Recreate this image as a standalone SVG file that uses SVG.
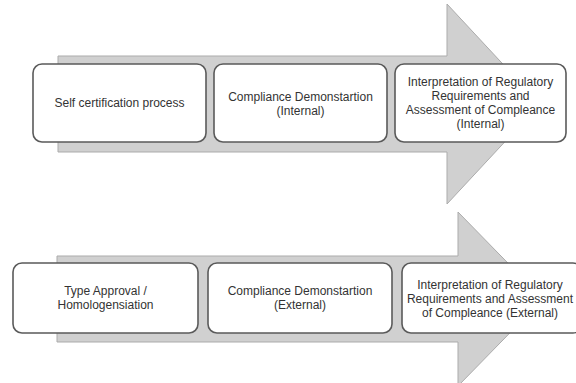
<svg xmlns="http://www.w3.org/2000/svg" width="576" height="383" viewBox="0 0 576 383">
<style>
.arrow{fill:#d0d0d0;stroke:#ababab;stroke-width:1}
.box{fill:#ffffff;stroke:#5a5a5a;stroke-width:1.6}
.t{font-family:"Liberation Sans",Arial,sans-serif;font-size:12px;fill:#333333;text-anchor:middle}
</style>
<rect width="576" height="383" fill="#ffffff"/>
<g id="connectors">
<polygon class="arrow" points="58,56 447,56 447,4 540,104 447,204 447,152 58,152"/>
<polygon class="arrow" points="57,256 458,256 458,212 543,299 458,386 458,342 57,342"/>
</g>
<g id="n1">
<rect class="box" x="33" y="64" width="173" height="78" rx="9"/>
<text class="t" x="119.5" y="107">Self certification process</text>
</g>
<g id="n2">
<rect class="box" x="214" y="64" width="173" height="78" rx="9"/>
<text class="t" x="300.5" y="101">Compliance Demonstartion</text>
<text class="t" x="300.5" y="115">(Internal)</text>
</g>
<g id="n3">
<rect class="box" x="395" y="64" width="171" height="78" rx="9"/>
<text class="t" x="480.5" y="86">Interpretation of Regulatory</text>
<text class="t" x="480.5" y="100">Requirements and</text>
<text class="t" x="480.5" y="114">Assessment of Compleance</text>
<text class="t" x="480.5" y="128">(Internal)</text>
</g>
<g id="n4">
<rect class="box" x="13" y="263" width="185" height="70" rx="9"/>
<text class="t" x="105.5" y="295">Type Approval /</text>
<text class="t" x="105.5" y="309">Homologensiation</text>
</g>
<g id="n5">
<rect class="box" x="208" y="263" width="184" height="70" rx="9"/>
<text class="t" x="300" y="295">Compliance Demonstartion</text>
<text class="t" x="300" y="309">(External)</text>
</g>
<g id="n6">
<rect class="box" x="402" y="263" width="180" height="70" rx="9"/>
<text class="t" x="490" y="289">Interpretation of Regulatory</text>
<text class="t" x="490" y="303">Requirements and Assessment</text>
<text class="t" x="490" y="317">of Compleance (External)</text>
</g>
</svg>
